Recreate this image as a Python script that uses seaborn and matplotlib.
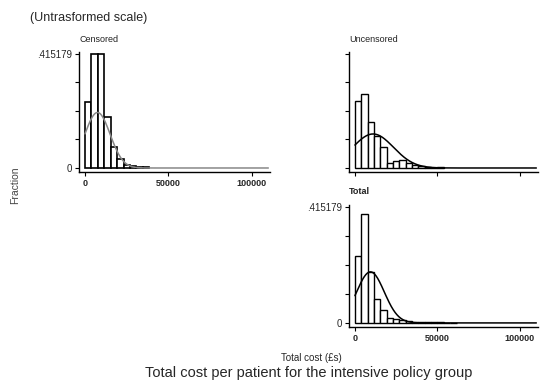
import numpy as np
import pandas as pd
import matplotlib
matplotlib.use("Agg")
import matplotlib.pyplot as plt
import seaborn as sns

# ---- data ----
bin_width = 3850
censored_frac = [0.241, 0.415179, 0.415179, 0.186, 0.077, 0.033, 0.012, 0.006, 0.004, 0.003]
uncensored_frac = [0.243, 0.269, 0.166, 0.115, 0.076, 0.018, 0.025, 0.030, 0.018, 0.012,
                   0.007, 0.002, 0.001, 0.005]
total_frac = [0.241, 0.389, 0.184, 0.084, 0.046, 0.016, 0.014, 0.012, 0.007, 0.004,
              0.003, 0.002, 0.002, 0.002, 0.001, 0.001]
# normal-curve parameters (mean, sd) for each panel
censored_norm = (7500, 7600)
uncensored_norm = (11000, 12400)
total_norm = (9400, 8400)
x_ticks = [0, 50000, 100000]
x_tick_labels = ["0", "50000", "100000"]
y_top = 0.415179
y_ticks = [0, y_top / 4, y_top / 2, 3 * y_top / 4, y_top]
y_tick_labels = ["0", "", "", "", ".415179"]

sns.set_style("ticks")
plt.rcParams["font.family"] = ["Liberation Sans", "DejaVu Sans"]

fig = plt.figure(figsize=(5.42, 3.90), dpi=100)
W, H = 542, 390


def add_ax(l, t, r, b):
    return fig.add_axes([l / W, 1 - b / H, (r - l) / W, (b - t) / H])


ax_c = add_ax(79, 52, 270, 172)
ax_u = add_ax(349, 52, 538, 172)
ax_t = add_ax(349, 205, 538, 327)


def panel(ax, frac, norm, title, xlab, ylab, curve_color="black", bar_lw=1.0):
    n = len(frac)
    centers = (np.arange(n) + 0.5) * bin_width
    df = pd.DataFrame({"x": centers, "w": frac})
    sns.histplot(data=df, x="x", weights="w", binwidth=bin_width,
                 binrange=(0, n * bin_width), ax=ax, color="white",
                 edgecolor="black", linewidth=bar_lw, alpha=1, stat="count")
    mu, sd = norm
    xs = np.linspace(0, 110000, 600)
    ys = bin_width * np.exp(-0.5 * ((xs - mu) / sd) ** 2) / (sd * np.sqrt(2 * np.pi))
    sns.lineplot(x=xs, y=ys, ax=ax, color=curve_color, linewidth=1.1)
    ax.set_xlim(-3600, 111000)
    ax.set_ylim(-0.0146, 0.4223)
    sns.despine(ax=ax)
    for s in ("left", "bottom"):
        ax.spines[s].set_linewidth(1.0)
        ax.spines[s].set_color("black")
    ax.set_xticks(x_ticks)
    ax.set_yticks(y_ticks)
    ax.set_xticklabels(x_tick_labels if xlab else [""] * 3, fontsize=6.5, fontweight="bold")
    ax.set_yticklabels(y_tick_labels if ylab else [""] * 5, fontsize=7)
    ax.tick_params(axis="both", length=3, width=0.8, pad=2, color="black")
    ax.set_xlabel("")
    ax.set_ylabel("")
    ax.text(0.0, 1.07, title, transform=ax.transAxes, fontsize=6.5, ha="left", va="bottom",
            color="#222222")


panel(ax_c, censored_frac, censored_norm, "Censored", True, True, curve_color="#888888", bar_lw=1.2)
panel(ax_u, uncensored_frac, uncensored_norm, "Uncensored", False, False)
panel(ax_t, total_frac, total_norm, "Total", True, True)
ax_t.texts[0].set_fontweight("bold")

fig.text(30 / W, 1 - 18 / H, "(Untrasformed scale)", fontsize=9, ha="left", va="center")
fig.text(15 / W, 1 - 185 / H, "Fraction", fontsize=7.5, rotation=90, ha="center", va="center",
         color="#444444")
fig.text(311 / W, 1 - 358 / H, "Total cost (£s)", fontsize=7, ha="center", va="center")
fig.text(309 / W, 1 - 373 / H, "Total cost per patient for the intensive policy group",
         fontsize=10.5, ha="center", va="center")

fig.savefig("out.png", dpi=100)
